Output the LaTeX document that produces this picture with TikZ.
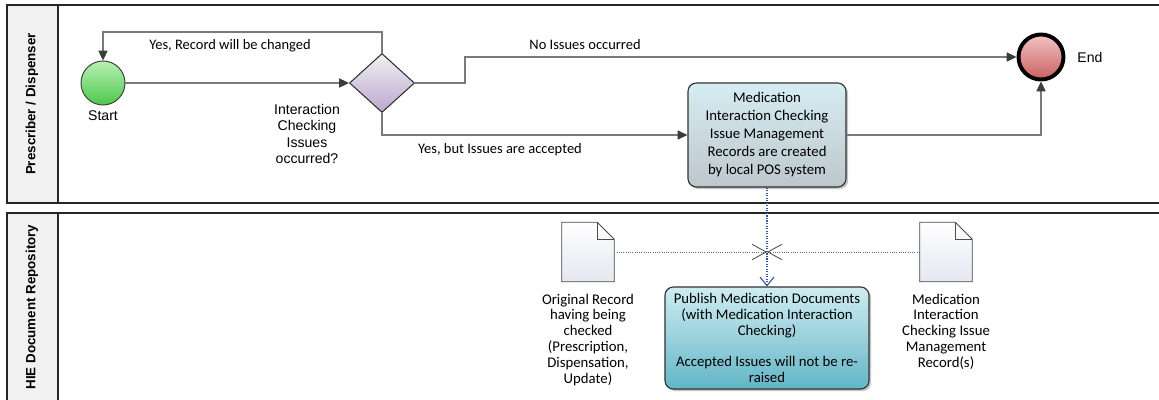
\documentclass[tikz,border=0pt]{standalone}
\usepackage{fontspec}
\setmainfont{Carlito}
\newfontfamily\arialfont{Liberation Sans}
\usetikzlibrary{shapes.geometric,positioning,calc,arrows.meta,shadows}
\definecolor{flowgray}{HTML}{7a7a7a}
\definecolor{tipgray}{HTML}{3c3c3c}
\definecolor{headbg}{HTML}{f1f1f1}
\definecolor{linkblue}{HTML}{2f58a8}
\definecolor{startlt}{HTML}{b8f2b2}
\definecolor{startdk}{HTML}{4cc84c}
\definecolor{gwlt}{HTML}{f1eff5}
\definecolor{gwdk}{HTML}{bba8cc}
\definecolor{endlt}{HTML}{f3c4c4}
\definecolor{enddk}{HTML}{c95f5f}
\definecolor{tasklt}{HTML}{d5edf3}
\definecolor{taskdk}{HTML}{bec7cb}
\definecolor{publt}{HTML}{cfecf2}
\definecolor{pubdk}{HTML}{62b6c6}
\definecolor{docdk}{HTML}{e4e7f0}

\begin{document}
\begin{tikzpicture}[x=0.025cm, y=-0.025cm,
  lanebox/.style={draw=black!85, line width=1pt},
  lanetitle/.style={rotate=90, font=\arialfont\bfseries\fontsize{9.5}{11}\selectfont},
  flow/.style={draw=flowgray, line width=0.9pt, -{Triangle[length=7pt,width=6.5pt,color=tipgray]}},
  link/.style={draw=linkblue, line width=0.8pt, densely dotted, -{Straight Barb[length=6pt,width=10pt,color=linkblue]}},
  assoc/.style={draw=black!60, line width=0.6pt, densely dotted, -{Straight Barb[length=10pt,width=11pt,color=black!70]}},
  evlabel/.style={font=\arialfont\fontsize{10}{11.5}\selectfont, align=center},
  edgelabel/.style={font=\fontsize{10.3}{12}\selectfont},
  taskbox/.style={draw=black!80, line width=0.8pt, rounded corners=6pt, align=center,
    drop shadow={shadow xshift=1.5pt, shadow yshift=-1.5pt, opacity=0.45}},
  docbox/.style={minimum width=1.3cm, minimum height=1.475cm, inner sep=0pt},
  docline/.style={draw=black!70, line width=0.6pt},
  doclabel/.style={align=center, font=\fontsize{10.5}{11.3}\selectfont}]

  % canvas and lanes
  \clip (0,0) rectangle (1159,400);
  \fill[white] (0,0) rectangle (1159,400);
  \draw[lanebox, fill=white] (7,5) rectangle (1180,203);
  \draw[lanebox, fill=headbg] (7,5) rectangle (58,203);
  \draw[lanebox, fill=white] (7,213) rectangle (1180,420);
  \draw[lanebox, fill=headbg] (7,213) rectangle (58,420);
  \node[lanetitle] (lanepd) at (32,104) {Prescriber / Dispenser};
  \node[lanetitle] (lanehie) at (32,307) {HIE Document Repository};

  % Prescriber / Dispenser lane
  \node[circle, draw=black!75, line width=0.7pt, top color=startlt, bottom color=startdk,
    minimum size=1.1cm, inner sep=0pt] (start) at (103,83) {};
  \node[evlabel, below=0pt of start] (startlbl) {Start};
  \node[diamond, draw=black!85, line width=0.7pt, top color=gwlt, bottom color=gwdk,
    minimum width=1.625cm, minimum height=1.475cm, inner sep=0pt] (gw) at (382,83) {};
  \node[evlabel] (gwlbl) at (307,134) {Interaction\\Checking\\Issues\\occurred?};
  \node[circle, draw=black, line width=2.8pt, top color=endlt, bottom color=enddk,
    minimum size=1.125cm, inner sep=0pt] (endev) at (1041,57) {};
  \node[evlabel, right=5pt of endev] (endlbl) {End};
  \node[taskbox, top color=tasklt, bottom color=taskdk, minimum width=3.95cm, minimum height=2.6cm,
    font=\fontsize{10.5}{12.8}\selectfont] (task) at (767,135)
    {Medication\\Interaction Checking\\Issue Management\\Records are created\\by local POS system};

  \draw[flow] (start.east) -- (gw.west);
  \draw[flow] (gw.north) -- ++(0,-21) -| (start.north);
  \node[edgelabel] (lblchange) at (230,46) {Yes, Record will be changed};
  \draw[flow] (gw.east) -- (465,83) |- (endev.west);
  \node[edgelabel] (lblnone) at (585,45) {No Issues occurred};
  \draw[flow] (gw.south) |- (task.west);
  \node[edgelabel] (lblaccept) at (500,150) {Yes, but Issues are accepted};
  \draw[flow] (task.east) -| (endev.south);

  % HIE Document Repository lane
  \node[taskbox, top color=publt, bottom color=pubdk, minimum width=5.1cm, minimum height=2.55cm,
    font=\fontsize{10.5}{11.3}\selectfont] (pub) at (767,338)
    {Publish Medication Documents\\(with Medication Interaction\\Checking)\\[11.3pt]Accepted Issues will not be re-\\raised};
  \node[docbox] (doc1) at (588,252) {};
  \node[docbox] (doc2) at (946,252) {};
  \foreach \d in {doc1,doc2} {
    \draw[docline, top color=white, bottom color=docdk] (\d.south west) -- (\d.north west)
      -- ($(\d.north east)+(-17,0)$) -- ($(\d.north east)+(0,17)$) -- (\d.south east) -- cycle;
    \draw[docline] ($(\d.north east)+(-17,0)$) |- ($(\d.north east)+(0,17)$);
  }
  \node[doclabel, below=5pt of doc1] (doc1lbl)
    {Original Record\\having being\\checked\\(Prescription,\\Dispensation,\\Update)};
  \node[doclabel, below=5pt of doc2] (doc2lbl)
    {Medication\\Interaction\\Checking Issue\\Management\\Record(s)};

  \draw[link] (task.south) -- (pub.north);
  \coordinate (meet) at (task.south |- doc1.east);
  \draw[assoc] (doc1.east) -- (meet);
  \draw[assoc] (doc2.west) -- (meet);
\end{tikzpicture}
\end{document}
